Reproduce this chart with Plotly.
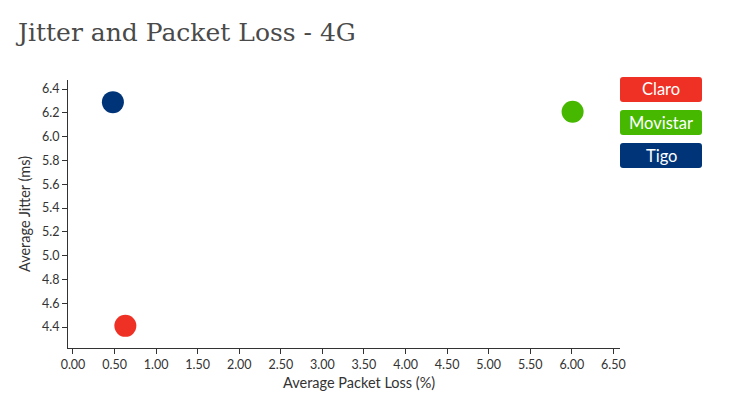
import re
import plotly.graph_objects as go

operators = ["Claro", "Movistar", "Tigo"]
packet_loss = [0.63, 6.01, 0.48]
jitter = [4.41, 6.21, 6.29]
colors = ["#EE3124", "#46B800", "#003478"]

x_ticks = [i * 0.5 for i in range(14)]
y_ticks = [4.4 + i * 0.2 for i in range(11)]

fig = go.Figure()
for name, xv, yv, c in zip(operators, packet_loss, jitter, colors):
    fig.add_trace(go.Scatter(x=[xv], y=[yv], mode="markers", name=name,
                             marker=dict(size=22, color=c, line=dict(width=0)),
                             showlegend=False))

W, H = 731, 399
L, R, T, B = 68, 111, 80, 51
pw, ph = W - L - R, H - T - B

def px_to_paper_x(px):
    return (px - L) / pw

def px_to_paper_y(py):
    return (H - B - py) / ph

shapes = []
annotations = []
box_left, box_right = 620, 702
box_tops = [77, 110, 143]
box_h = 25
r = 3
for name, c, top in zip(operators, colors, box_tops):
    x0, x1 = box_left, box_right
    y0, y1 = top, top + box_h
    path = (f"M {x0+r},{y0} L {x1-r},{y0} Q {x1},{y0} {x1},{y0+r} "
            f"L {x1},{y1-r} Q {x1},{y1} {x1-r},{y1} L {x0+r},{y1} "
            f"Q {x0},{y1} {x0},{y1-r} L {x0},{y0+r} Q {x0},{y0} {x0+r},{y0} Z")

    def conv(m):
        a, b = float(m.group(1)), float(m.group(2))
        return f"{px_to_paper_x(a):.5f},{px_to_paper_y(b):.5f}"
    ppath = re.sub(r"([\d.]+),([\d.]+)", conv, path)
    shapes.append(dict(type="path", xref="paper", yref="paper", path=ppath,
                       fillcolor=c, line=dict(width=0), layer="above"))
    annotations.append(dict(x=px_to_paper_x((x0 + x1) / 2), y=px_to_paper_y((y0 + y1) / 2),
                            xref="paper", yref="paper", text=name, showarrow=False,
                            xanchor="center", yanchor="middle",
                            font=dict(family="Lato", size=16.5, color="white")))

# x-axis title (offset to the right of plot centre, as in the reference)
annotations.append(dict(x=px_to_paper_x(359), y=px_to_paper_y(382), xref="paper", yref="paper",
                        text="Average Packet Loss (%)", showarrow=False,
                        xanchor="center", yanchor="middle",
                        font=dict(family="Lato", size=14.5, color="#333333")))

fig.update_layout(
    width=W, height=H,
    margin=dict(l=L, r=R, t=T, b=B),
    paper_bgcolor="white", plot_bgcolor="white",
    title=dict(text="Jitter and Packet Loss - 4G", x=18 / W, xanchor="left",
               y=1 - 32 / H, yanchor="middle",
               font=dict(family="DejaVu Serif", size=25, color="#4a4a4a")),
    font=dict(family="Lato", color="#333333"),
    xaxis=dict(range=[-0.06, 6.58], tickvals=x_ticks, tickformat=".2f",
               showgrid=False, zeroline=False, showline=True, linecolor="#333333",
               linewidth=1, ticks="outside", ticklen=5, tickcolor="#333333",
               tickfont=dict(size=12.5, color="#333333")),
    yaxis=dict(range=[4.224, 6.476], tickvals=y_ticks, tickformat=".1f",
               showgrid=False, zeroline=False, showline=True, linecolor="#333333",
               linewidth=1, ticks="outside", ticklen=5, tickcolor="#333333",
               tickfont=dict(size=12.5, color="#333333"),
               title=dict(text="Average Jitter (ms)", font=dict(size=14.5, color="#333333"),
                          standoff=7)),
    shapes=shapes,
    annotations=annotations,
)

fig.write_html("out.html", config={"displayModeBar": False},
               post_script="document.body.style.margin='0px';")
